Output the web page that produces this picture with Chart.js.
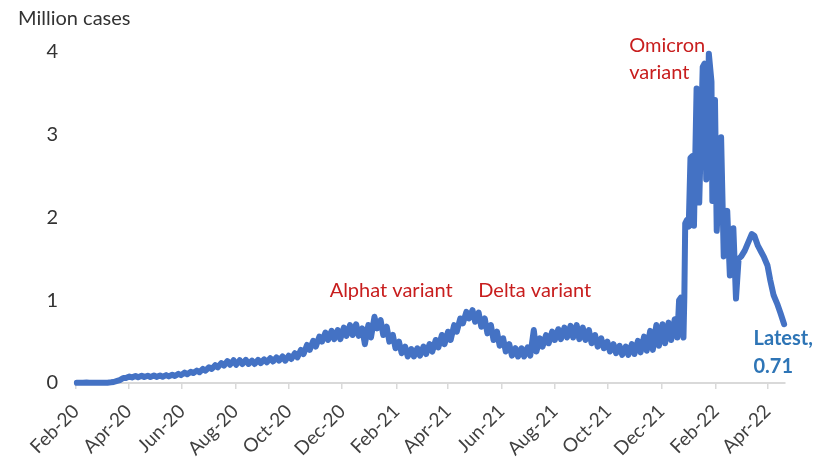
<!DOCTYPE html>
<html><head><meta charset="utf-8">
<script src="https://cdn.jsdelivr.net/npm/chart.js@4.4.1/dist/chart.umd.min.js"></script>
<style>html,body{margin:0;padding:0;background:#fff;}canvas{display:block;}</style>
</head><body>
<canvas id="chart" width="827" height="458"></canvas>
<script>
// ---- data ----
const dates = [
"2020-02-02","2020-02-06","2020-02-09","2020-02-13","2020-02-16","2020-02-20","2020-02-23","2020-02-27",
"2020-03-01","2020-03-05","2020-03-08","2020-03-12","2020-03-15","2020-03-19","2020-03-22","2020-03-26","2020-03-29",
"2020-04-02","2020-04-05","2020-04-09","2020-04-12","2020-04-16","2020-04-19","2020-04-23","2020-04-26","2020-04-30",
"2020-05-03","2020-05-07","2020-05-10","2020-05-14","2020-05-17","2020-05-21","2020-05-24","2020-05-28","2020-05-31",
"2020-06-04","2020-06-07","2020-06-11","2020-06-14","2020-06-18","2020-06-21","2020-06-25","2020-06-28",
"2020-07-02","2020-07-05","2020-07-09","2020-07-12","2020-07-16","2020-07-19","2020-07-23","2020-07-26","2020-07-30",
"2020-08-02","2020-08-06","2020-08-09","2020-08-13","2020-08-16","2020-08-20","2020-08-23","2020-08-27","2020-08-30",
"2020-09-03","2020-09-06","2020-09-10","2020-09-13","2020-09-17","2020-09-20","2020-09-24","2020-09-27",
"2020-10-01","2020-10-04","2020-10-08","2020-10-11","2020-10-15","2020-10-18","2020-10-22","2020-10-25","2020-10-29",
"2020-11-01","2020-11-05","2020-11-08","2020-11-12","2020-11-15","2020-11-19","2020-11-22","2020-11-26","2020-11-29",
"2020-12-03","2020-12-06","2020-12-10","2020-12-13","2020-12-17","2020-12-20","2020-12-24","2020-12-27","2020-12-31",
"2021-01-03","2021-01-07","2021-01-10","2021-01-14","2021-01-17","2021-01-21","2021-01-24","2021-01-28","2021-01-31",
"2021-02-04","2021-02-07","2021-02-11","2021-02-14","2021-02-18","2021-02-21","2021-02-25","2021-02-28",
"2021-03-04","2021-03-07","2021-03-11","2021-03-14","2021-03-18","2021-03-21","2021-03-25","2021-03-28",
"2021-04-01","2021-04-04","2021-04-08","2021-04-11","2021-04-15","2021-04-18","2021-04-22","2021-04-25","2021-04-29",
"2021-05-02","2021-05-06","2021-05-09","2021-05-13","2021-05-16","2021-05-20","2021-05-23","2021-05-27","2021-05-30",
"2021-06-03","2021-06-06","2021-06-10","2021-06-13","2021-06-17","2021-06-20","2021-06-24","2021-06-27",
"2021-07-01","2021-07-04","2021-07-08","2021-07-11","2021-07-15","2021-07-18","2021-07-22","2021-07-25","2021-07-29",
"2021-08-01","2021-08-05","2021-08-08","2021-08-12","2021-08-15","2021-08-19","2021-08-22","2021-08-26","2021-08-29",
"2021-09-02","2021-09-05","2021-09-09","2021-09-12","2021-09-16","2021-09-19","2021-09-23","2021-09-26","2021-09-30",
"2021-10-03","2021-10-07","2021-10-10","2021-10-14","2021-10-17","2021-10-21","2021-10-24","2021-10-28","2021-10-31",
"2021-11-04","2021-11-07","2021-11-11","2021-11-14","2021-11-18","2021-11-21","2021-11-25","2021-11-28",
"2021-12-02","2021-12-05","2021-12-09","2021-12-12","2021-12-16","2021-12-19","2021-12-21","2021-12-23","2021-12-26",
"2021-12-27","2021-12-28","2021-12-30",
"2022-01-01","2022-01-03","2022-01-05","2022-01-07","2022-01-10","2022-01-13","2022-01-17","2022-01-19","2022-01-21",
"2022-01-24","2022-01-27","2022-01-28","2022-01-31",
"2022-02-02","2022-02-07","2022-02-10","2022-02-14","2022-02-17","2022-02-21","2022-02-24","2022-02-27",
"2022-03-02","2022-03-06","2022-03-10","2022-03-14","2022-03-17","2022-03-21","2022-03-25","2022-03-28",
"2022-04-01","2022-04-04","2022-04-08","2022-04-12","2022-04-16","2022-04-20"
];
const cases = [
.002,.004,.003,.005,.002,.003,.002,.004,
.003,.004,.004,.008,.012,.025,.035,.06,.06,
.078,.068,.085,.07,.088,.072,.088,.073,.09,
.074,.09,.075,.095,.08,.10,.085,.11,.095,
.125,.105,.135,.12,.15,.13,.17,.15,
.19,.17,.215,.19,.24,.21,.265,.22,.275,
.22,.275,.23,.28,.23,.27,.23,.28,.24,
.285,.25,.30,.26,.31,.27,.32,.27,
.33,.29,.36,.31,.40,.35,.46,.40,.51,
.44,.56,.50,.61,.52,.63,.53,.64,.53,
.67,.57,.70,.58,.71,.57,.66,.47,.70,
.55,.80,.66,.76,.58,.68,.50,.58,.42,
.50,.36,.44,.32,.41,.32,.42,.33,
.44,.35,.47,.38,.52,.43,.58,.47,
.62,.52,.70,.62,.78,.72,.86,.78,.88,
.74,.85,.68,.78,.60,.70,.52,.62,.45,
.54,.38,.47,.33,.42,.32,.42,.32,
.43,.33,.64,.38,.54,.44,.58,.48,.62,
.52,.65,.53,.67,.55,.69,.55,.70,.53,
.67,.52,.64,.48,.58,.44,.54,.42,.50,
.38,.47,.36,.45,.34,.44,.34,.47,.35,
.51,.37,.56,.39,.63,.40,.70,.45,
.71,.48,.73,.52,.77,.55,1.00,1.03,.55,
1.04,1.93,1.97,
1.89,2.72,2.74,1.90,3.56,2.18,3.82,3.86,2.46,
3.98,3.64,2.20,3.42,
1.84,2.97,1.53,2.08,1.30,1.87,1.02,1.50,
1.53,1.60,1.70,1.80,1.78,1.66,1.58,1.52,
1.42,1.25,1.06,0.96,0.84,0.71
];
const tickDates = ["2020-02-01","2020-04-01","2020-06-01","2020-08-01","2020-10-01","2020-12-01",
  "2021-02-01","2021-04-01","2021-06-01","2021-08-01","2021-10-01","2021-12-01","2022-02-01","2022-04-01"];
const tickLabels = ["Feb-20","Apr-20","Jun-20","Aug-20","Oct-20","Dec-20",
  "Feb-21","Apr-21","Jun-21","Aug-21","Oct-21","Dec-21","Feb-22","Apr-22"];
const yTicks = [0,1,2,3,4];
const axisTitle = "Million cases";
const axisEnd = "2022-04-21";

// ---- helpers ----
const DAY = 86400000;
const origin = Date.UTC(2020,1,1);
function dayOf(s){const p=s.split('-').map(Number);return (Date.UTC(p[0],p[1]-1,p[2])-origin)/DAY;}
const points = dates.map((d,i)=>({x:dayOf(d), y:cases[i]}));
const latest = cases[cases.length-1];

const FONT = 'Lato, "Open Sans", sans-serif';
const RED = '#C81E1E';
const BLUE = '#2E75B6';

const notesPlugin = {
  id:'notes',
  afterDraw(chart){
    const {ctx, scales:{x, y}} = chart;
    ctx.save();
    ctx.textBaseline = 'alphabetic';
    ctx.font = '20px ' + FONT;
    ctx.fillStyle = '#333333';
    ctx.textAlign = 'left';
    ctx.fillText(axisTitle, 18, 25);
    const notes = [
      {text:'Alphat variant', date:'2021-01-26', v:1.04, align:'center', color:RED},
      {text:'Delta variant', date:'2021-07-09', v:1.04, align:'center', color:RED},
      {text:'Omicron', date:'2021-10-25', v:4.0, align:'left', color:RED},
      {text:'variant', date:'2021-10-25', v:3.67, align:'left', color:RED},
      {text:'Latest,', date:'2022-03-16', v:0.46, align:'left', color:BLUE, bold:true},
      {text:String(latest), date:'2022-03-16', v:0.12, align:'left', color:BLUE, bold:true}
    ];
    notes.forEach(n=>{
      ctx.font = (n.bold?'bold ':'') + '20px ' + FONT;
      ctx.fillStyle = n.color;
      ctx.textAlign = n.align;
      ctx.fillText(n.text, x.getPixelForValue(dayOf(n.date)), y.getPixelForValue(n.v));
    });
    ctx.restore();
  }
};

new Chart(document.getElementById('chart'), {
  type:'line',
  data:{datasets:[{
    data:points, borderColor:'#4472C4', borderWidth:6, pointRadius:0, tension:0,
    clip:false, borderJoinStyle:'round', borderCapStyle:'round', fill:false
  }]},
  options:{
    responsive:false, animation:false, devicePixelRatio:1,
    layout:{padding:{top:52, right:42, left:0, bottom:0}},
    plugins:{legend:{display:false}, tooltip:{enabled:false}},
    scales:{
      x:{
        type:'linear', min:0, max:dayOf(axisEnd),
        afterBuildTicks:s=>{ s.ticks = tickDates.map(d=>({value:dayOf(d)})); },
        afterFit:s=>{ s.height = 75; },
        grid:{display:true, drawOnChartArea:false, drawTicks:true, tickLength:6, color:'#D9D9D9', lineWidth:1.5},
        border:{display:true, color:'#D9D9D9', width:2},
        ticks:{autoSkip:false, minRotation:45, maxRotation:45, padding:11, color:'#404040',
               font:{family:FONT, size:19}, callback:(v,i)=>tickLabels[i]}
      },
      y:{
        min:0, max:4,
        afterBuildTicks:s=>{ s.ticks = yTicks.map(v=>({value:v})); },
        afterFit:s=>{ s.width = 76; },
        grid:{display:false, drawTicks:false},
        border:{display:false},
        ticks:{padding:18, color:'#333333', font:{family:FONT, size:20}}
      }
    }
  },
  plugins:[notesPlugin]
});
</script>
</body></html>
